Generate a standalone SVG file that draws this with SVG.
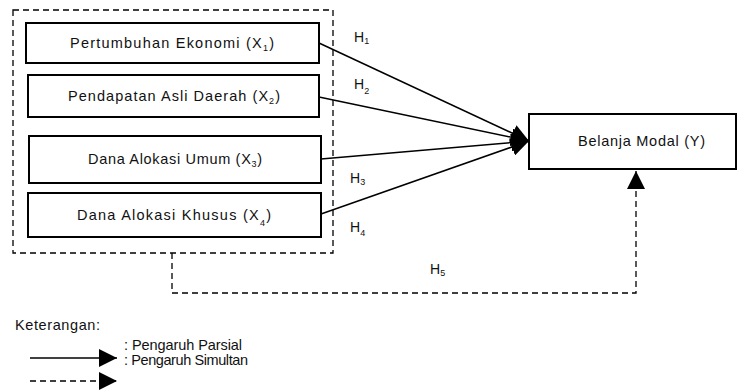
<svg xmlns="http://www.w3.org/2000/svg" width="739" height="390" viewBox="0 0 739 390">
<style>
.box{fill:#fff;stroke:#000;stroke-width:2}
.t{font-family:"Liberation Sans","DejaVu Sans",sans-serif;font-size:14.5px;fill:#111}
.h{font-family:"Liberation Sans","DejaVu Sans",sans-serif;font-size:14px;fill:#111}
.sub{font-size:9px}
.ln{fill:none;stroke:#000;stroke-width:1.5}
.dash{fill:none;stroke:#000;stroke-width:1.3;stroke-dasharray:6,4}
</style>
<defs>
<marker id="ah" viewBox="0 0 18 18" refX="18" refY="9" markerWidth="18" markerHeight="18" markerUnits="userSpaceOnUse" orient="auto">
<path d="M0,0 L18,9 L0,18 z" fill="#000"/>
</marker>
</defs>
<rect id="group-box" x="13" y="10" width="320" height="243" class="dash"/>
<g id="x1"><rect class="box" x="26" y="23" width="293" height="40"/><text class="t" x="70" y="48" textLength="204">Pertumbuhan Ekonomi (X<tspan class="sub" dy="3">1</tspan><tspan dy="-3">)</tspan></text></g>
<g id="x2"><rect class="box" x="28" y="75" width="291" height="42"/><text class="t" x="68" y="101" textLength="212">Pendapatan Asli Daerah (X<tspan class="sub" dy="3">2</tspan><tspan dy="-3">)</tspan></text></g>
<g id="x3"><rect class="box" x="29" y="136" width="292" height="47"/><text class="t" x="88" y="164" textLength="174">Dana Alokasi Umum (X<tspan class="sub" dy="3">3</tspan><tspan dy="-3">)</tspan></text></g>
<g id="x4"><rect class="box" x="28" y="193" width="293" height="44"/><text class="t" x="77" y="220" textLength="194">Dana Alokasi Khusus (X<tspan class="sub" dy="6">4</tspan><tspan dy="-6">)</tspan></text></g>
<g id="y"><rect class="box" x="529" y="114" width="207" height="55"/><text class="t" x="578" y="146" textLength="127">Belanja Modal (Y)</text></g>
<g id="connectors">
<line class="ln" x1="319" y1="43" x2="529" y2="141" marker-end="url(#ah)"/>
<line class="ln" x1="319" y1="97" x2="529" y2="141" marker-end="url(#ah)"/>
<line class="ln" x1="321" y1="159" x2="529" y2="141" marker-end="url(#ah)"/>
<line class="ln" x1="321" y1="214" x2="529" y2="141" marker-end="url(#ah)"/>
<path class="dash" d="M172,253 V293 H636 V171" marker-end="url(#ah)"/>
</g>
<g id="labels">
<text class="h" x="354" y="42">H<tspan class="sub" dy="2">1</tspan></text>
<text class="h" x="354" y="89">H<tspan class="sub" dy="5">2</tspan></text>
<text class="h" x="350" y="183">H<tspan class="sub" dy="2">3</tspan></text>
<text class="h" x="350" y="232">H<tspan class="sub" dy="4">4</tspan></text>
<text class="h" x="430" y="274">H<tspan class="sub" dy="2">5</tspan></text>
</g>
<g id="legend">
<text class="t" x="15" y="330" textLength="85">Keterangan:</text>
<line class="ln" x1="30" y1="358" x2="117" y2="358" marker-end="url(#ah)"/>
<line class="dash" x1="30" y1="381" x2="117" y2="381" marker-end="url(#ah)"/>
<text class="t" x="124" y="350" textLength="118">: Pengaruh Parsial</text>
<text class="t" x="124" y="365" textLength="124">: Pengaruh Simultan</text>
</g>
</svg>
